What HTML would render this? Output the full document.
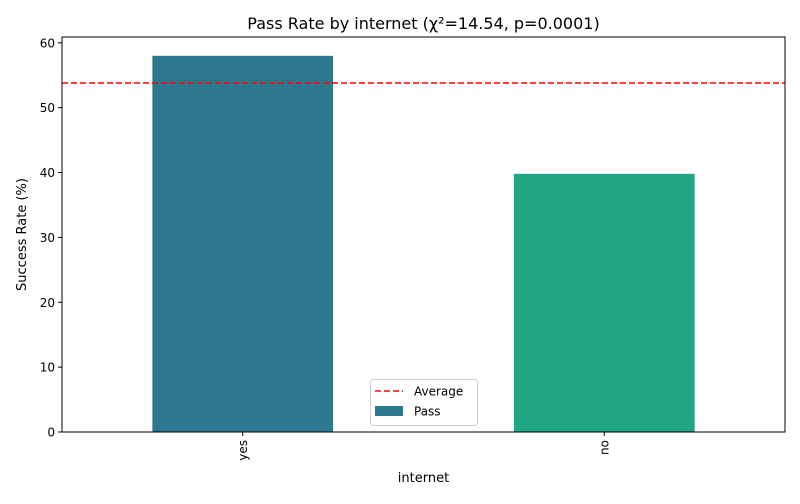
<!DOCTYPE html>
<html><head><meta charset="utf-8"><style>
body{margin:0;background:#fff;font-family:"DejaVu Sans","Liberation Sans",sans-serif}
svg text{font-family:"DejaVu Sans","Liberation Sans",sans-serif}
</style></head><body>
<svg id="c" width="800" height="500" xmlns="http://www.w3.org/2000/svg">
<rect width="800" height="500" fill="#fff"/>
<text x="423.5" y="29" font-size="16" text-anchor="middle">Pass Rate by internet (χ²=14.54, p=0.0001)</text>
<text x="423.5" y="482" font-size="13" text-anchor="middle">internet</text>
<text transform="translate(26,234.5) rotate(-90)" font-size="13" text-anchor="middle">Success Rate (%)</text>
<g id="bars"></g><g id="ticks"></g>
</svg>
<script>
const categories=["yes","no"];
const passRates=[58.0,39.8];
const averageRate=53.8;
const yTicks=[0,10,20,30,40,50,60];
const colors=["#2c798f","#21a585"];
const L=62,R=785,T=37,B=432,yMax=60.9;
const ns="http://www.w3.org/2000/svg";
const svg=document.getElementById('c');
const bars=document.getElementById('bars'),ticks=document.getElementById('ticks');
function y(v){return B-(B-T)*v/yMax;}
function x(i){return L+(R-L)*(i+0.5)/categories.length;}
const bw=(R-L)/categories.length*0.5;
function mk(tag,attrs,parent){const e=document.createElementNS(ns,tag);for(const k in attrs)e.setAttribute(k,attrs[k]);parent.appendChild(e);return e;}
categories.forEach((c,i)=>{
  const r=mk('rect',{x:x(i)-bw/2,y:y(passRates[i]),width:bw,height:B-y(passRates[i]),fill:colors[i]},bars);
  
  
  mk('line',{x1:x(i),x2:x(i),y1:B,y2:B+4,stroke:'#000'},ticks);
  const t=mk('text',{transform:`translate(${x(i)+4},${B+8}) rotate(-90)`,'font-size':12,'text-anchor':'end'},ticks);
  t.textContent=c;
  
  
});
yTicks.forEach(v=>{
  mk('line',{x1:L-4,x2:L,y1:y(v),y2:y(v),stroke:'#000'},ticks);
  const t=mk('text',{x:L-7,y:y(v)+4.5,'font-size':12,'text-anchor':'end'},ticks);
  t.textContent=v;
  
  
});
const avg=mk('line',{x1:L,x2:R,y1:y(averageRate),y2:y(averageRate),stroke:'#ff0000','stroke-width':1.5,'stroke-dasharray':'6,3'},svg);


const fr=mk('rect',{x:L,y:T,width:R-L,height:B-T,fill:'none',stroke:'#000','stroke-width':1},svg);


const lg=mk('g',{},svg);


mk('rect',{x:370.5,y:379.5,width:107,height:46,rx:3,fill:'#fff','fill-opacity':0.8,stroke:'#ccc'},lg);
mk('line',{x1:375,x2:403,y1:391,y2:391,stroke:'#ff0000','stroke-width':1.5,'stroke-dasharray':'6,3'},lg);
mk('rect',{x:375,y:406,width:28,height:10,fill:colors[0]},lg);
const t1=mk('text',{x:414,y:395.5,'font-size':12},lg);t1.textContent='Average';
const t2=mk('text',{x:414,y:415.5,'font-size':12},lg);t2.textContent='Pass';
</script>
</body></html>
